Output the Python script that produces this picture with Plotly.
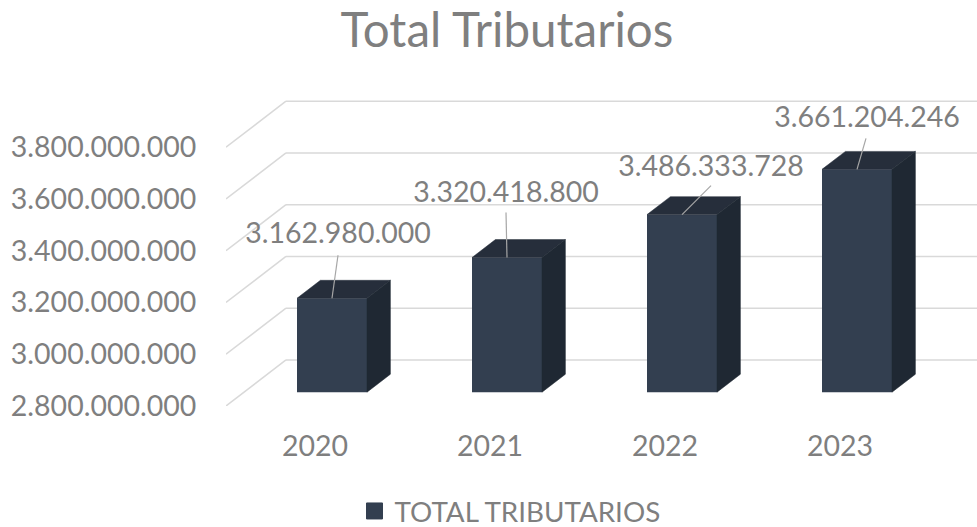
import plotly.graph_objects as go

YEARS = ["2020", "2021", "2022", "2023"]
VALUES = [3162980000, 3320418800, 3486333728, 3661204246]
Y_TICKS = [2800000000, 3000000000, 3200000000, 3400000000, 3600000000, 3800000000]
SERIES = "TOTAL TRIBUTARIOS"
TITLE = "Total Tributarios"

W, H = 977, 527
FONT = "Lato"
GREY = "#7f7f7f"
FRONT, TOP, SIDE = "#333f50", "#262e3b", "#1f2833"

# layout of the pseudo-3D box, in pixels
L, R, T, B = 226, 0, 80, 121.3
PX_PER_CAT = 175
PX_PER_UNIT = 51.7 / 200e6
CAT0_PX = 332
WALL_DX, WALL_DY = 60, 46      # offset of back wall from front edge
BAR_NEAR, BAR_FAR = 0.30, 0.69 # depth of bar faces, 0=front, 1=back
BAR_W = 0.4
TICK_SHIFT_PX = -17            # category labels sit left of the bar centres

# labels relative to the bar top centre, px
LABEL_OFF = [(6, -62), (-1, -63), (29, -46), (10, -49)]
LEADER_OFF = [(6, -43), (-1, -45), (29, -29), (9, -31)]

base_v = Y_TICKS[0]
x_rng = [(L - CAT0_PX) / PX_PER_CAT, (W - R - CAT0_PX) / PX_PER_CAT]
y_rng = [base_v, base_v + (H - B - T) / PX_PER_UNIT]


def px(i, v, d=BAR_NEAR):
    """project category position i, value v at depth d to axis coordinates"""
    return (i + (d - BAR_NEAR) * WALL_DX / PX_PER_CAT, v + d * WALL_DY / PX_PER_UNIT)


fig = go.Figure()

# walls below everything
shapes = []
grid = dict(color="#d9d9d9", width=1.5)
for t in Y_TICKS:
    y0 = px(0, t, 0)[1]
    y1 = px(0, t, 1)[1]
    x0 = x_rng[0]
    x1 = x_rng[0] + WALL_DX / PX_PER_CAT
    shapes.append(dict(type="line", xref="x", yref="y", x0=x0, y0=y0, x1=x1, y1=y1, line=grid, layer="below"))
    shapes.append(dict(type="line", xref="x", yref="y", x0=x1, y0=y1, x1=x_rng[1], y1=y1, line=grid, layer="below"))

# front faces
floor = px(0, base_v)[1]
fig.add_trace(go.Bar(
    x=list(range(len(VALUES))),
    y=[v - base_v for v in VALUES],
    base=floor,
    width=BAR_W,
    marker=dict(color=FRONT, line=dict(width=0)),
    showlegend=False,
    hoverinfo="skip",
))

# top and side faces
for i, v in enumerate(VALUES):
    l, r = i - BAR_W / 2, i + BAR_W / 2
    a, b = px(l, v, BAR_NEAR), px(r, v, BAR_NEAR)
    c, d = px(r, v, BAR_FAR), px(l, v, BAR_FAR)
    e, f = px(r, base_v, BAR_FAR), px(r, base_v, BAR_NEAR)
    fig.add_trace(go.Scatter(x=[a[0], b[0], c[0], d[0], a[0]], y=[a[1], b[1], c[1], d[1], a[1]],
                             mode="lines", fill="toself", fillcolor=TOP, line=dict(width=0.5, color=TOP),
                             showlegend=False, hoverinfo="skip"))
    fig.add_trace(go.Scatter(x=[b[0], c[0], e[0], f[0], b[0]], y=[b[1], c[1], e[1], f[1], b[1]],
                             mode="lines", fill="toself", fillcolor=SIDE, line=dict(width=0.5, color=SIDE),
                             showlegend=False, hoverinfo="skip"))

# leaders and labels
lab_x, lab_y, lab_t = [], [], []
for i, v in enumerate(VALUES):
    tx, ty = px(i, v)
    ox, oy = LEADER_OFF[i]
    fig.add_trace(go.Scatter(x=[tx, tx + ox / PX_PER_CAT], y=[ty, ty - oy / PX_PER_UNIT], mode="lines",
                             line=dict(color="#a6a6a6", width=1.2), showlegend=False, hoverinfo="skip"))
    ox, oy = LABEL_OFF[i]
    lab_x.append(tx + ox / PX_PER_CAT)
    lab_y.append(ty - oy / PX_PER_UNIT)
    lab_t.append(f"{v:,}".replace(",", "."))
fig.add_trace(go.Scatter(x=lab_x, y=lab_y, text=lab_t, mode="text", textposition="middle center",
                         textfont=dict(family=FONT, size=28.5, color=GREY), showlegend=False,
                         hoverinfo="skip", cliponaxis=False))

# legend entry
fig.add_trace(go.Scatter(x=[None], y=[None], mode="markers", name=SERIES,
                         marker=dict(symbol="square", size=16, color=FRONT, line=dict(width=1, color=FRONT))))

fig.update_layout(
    width=W, height=H, margin=dict(l=L, r=R, t=T, b=B, autoexpand=False),
    autosize=False,
    paper_bgcolor="white", plot_bgcolor="rgba(0,0,0,0)",
    separators=",.",
    font=dict(family=FONT, color=GREY, size=28.5),
    title=dict(text=TITLE, x=507 / W, xanchor="center", y=1 - 30 / H, yanchor="middle",
               font=dict(family=FONT, size=47.5, color=GREY)),
    shapes=shapes,
    xaxis=dict(range=x_rng, tickvals=[i + TICK_SHIFT_PX / PX_PER_CAT for i in range(len(YEARS))], ticktext=YEARS,
               showgrid=False, zeroline=False, showline=False, ticks="outside", ticklen=15,
               tickcolor="rgba(0,0,0,0)", tickfont=dict(family=FONT, size=28.5, color=GREY)),
    yaxis=dict(range=y_rng, tickvals=Y_TICKS, tickformat=",d", showgrid=False, zeroline=False, showline=False,
               ticks="outside", ticklen=23, tickcolor="rgba(0,0,0,0)",
               tickfont=dict(family=FONT, size=28.5, color=GREY)),
    legend=dict(x=(510 - L) / (W - L - R), xanchor="center", y=(H - B - 511) / (H - B - T), yanchor="middle",
                orientation="h", font=dict(family=FONT, size=27.8, color=GREY), bgcolor="rgba(0,0,0,0)", itemwidth=30),
    showlegend=True,
)

fig.write_html("out.html", config={"displayModeBar": False},
               post_script="document.body.style.margin='0';document.body.style.overflow='hidden';")
